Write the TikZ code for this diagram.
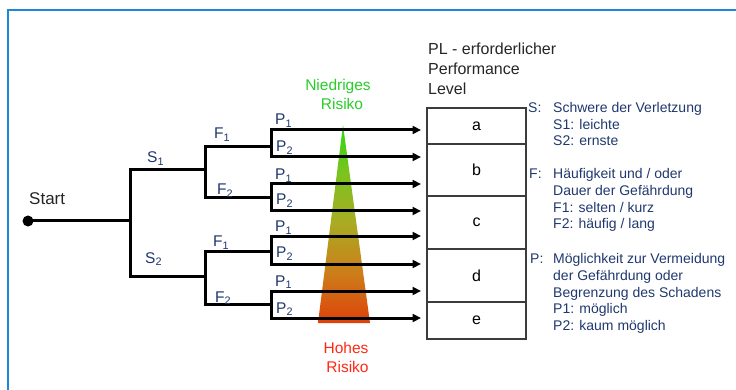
\documentclass[tikz,border=0pt]{standalone}
\usepackage{fontspec}
\setmainfont{Liberation Sans}
\usetikzlibrary{arrows.meta}
\definecolor{navy}{RGB}{31,56,110}
\definecolor{framec}{RGB}{30,136,216}
\definecolor{lowc}{RGB}{40,205,40}
\definecolor{highc}{RGB}{255,40,20}
\definecolor{triTop}{RGB}{45,215,20}
\definecolor{triUp}{RGB}{125,195,30}
\definecolor{triMid}{RGB}{170,170,35}
\definecolor{triLow}{RGB}{205,125,25}
\definecolor{triBot}{RGB}{222,65,10}
\definecolor{boxc}{RGB}{60,60,60}
\pgfdeclareverticalshading{riskshade}{100bp}{color(0bp)=(triBot); color(25bp)=(triBot);
  color(37.5bp)=(triLow); color(50bp)=(triMid); color(62.5bp)=(triUp);
  color(75bp)=(triTop); color(100bp)=(triTop)}
\tikzset{
  tree/.style={line width=3pt, line join=miter, black},
  arr/.style={tree, -{Triangle[length=8.5pt,width=8pt]}},
  lbl/.style={font=\fontsize{15.5}{18}\selectfont, text=navy, inner sep=0pt, anchor=base west},
  leg/.style={font=\fontsize{14}{17}\selectfont, text=navy, inner sep=0pt, anchor=base west},
  pltext/.style={font=\fontsize{16}{20}\selectfont, text=black!85, inner sep=0pt, anchor=base west},
  risk/.style={font=\fontsize{15.5}{19}\selectfont, inner sep=0pt, anchor=base},
  plbox/.style={draw=boxc, line width=1.3pt, minimum width=99pt, inner sep=0pt,
                font=\fontsize{16}{20}\selectfont},
  dot/.style={circle, fill=black, inner sep=0pt, minimum size=11pt}
}
\begin{document}
\begin{tikzpicture}[x=1pt,y=-1pt]
\useasboundingbox (0,0) rectangle (736,390);
% frame
\draw[framec, line width=2pt] (8,392) -- (8,10) -- (740,10);

% risk triangle
\coordinate (apex) at (343,125);
\coordinate (baseL) at (318,323);
\coordinate (baseR) at (370,323);
\shade[shading=riskshade] (apex) -- (baseR) -- (baseL) -- cycle;

% tree coordinates
\node[dot] (start) at (28,221) {};
\coordinate (sj) at (130,221);
\coordinate (s1) at (130,170);
\coordinate (s2) at (130,276);
\coordinate (fj1) at (205,170);
\coordinate (fj2) at (205,276);
\foreach \n/\y in {1/147, 2/198, 3/251, 4/304} {
  \coordinate (fa\n) at (205,\y);
  \coordinate (pj\n) at (271,\y);
}
\foreach \n/\y in {1/130, 2/157, 3/184, 4/211, 5/236, 6/264, 7/291, 8/318} {
  \coordinate (pend\n) at (421,\y);
}

% boxes
\node[plbox, minimum height=36pt] (a) at (476.5,126) {a};
\node[plbox, minimum height=52pt] (b) at (476.5,170) {b};
\node[plbox, minimum height=53pt] (c) at (476.5,222.5) {c};
\node[plbox, minimum height=53pt] (d) at (476.5,275.5) {d};
\node[plbox, minimum height=37pt] (e) at (476.5,320.5) {e};

% tree lines
\draw[tree] (start.center) -- (sj);
\draw[tree] (fj1) -- (s1) -- (s2) -- (fj2);
\draw[tree] (pj1) -- (fa1) -- (fa2) -- (pj2);
\draw[tree] (pj3) -- (fa3) -- (fa4) -- (pj4);
\draw[arr] (pj1) |- (pend1);
\draw[arr] (pj1) |- (pend2);
\draw[arr] (pj2) |- (pend3);
\draw[arr] (pj2) |- (pend4);
\draw[arr] (pj3) |- (pend5);
\draw[arr] (pj3) |- (pend6);
\draw[arr] (pj4) |- (pend7);
\draw[arr] (pj4) |- (pend8);

% tree labels
\node[pltext, font=\fontsize{17}{20}\selectfont] (tstart) at (29,205) {Start};
\node[lbl] (ls1) at (147,163) {S\textsubscript{1}};
\node[lbl] (ls2) at (145,263) {S\textsubscript{2}};
\node[lbl] (lf1) at (214,139) {F\textsubscript{1}};
\node[lbl] (lf2) at (217,195) {F\textsubscript{2}};
\node[lbl] (lf3) at (213,247) {F\textsubscript{1}};
\node[lbl] (lf4) at (215,302) {F\textsubscript{2}};
\node[lbl] (lp1) at (275,125) {P\textsubscript{1}};
\node[lbl] (lp2) at (276,152) {P\textsubscript{2}};
\node[lbl] (lp3) at (275,180) {P\textsubscript{1}};
\node[lbl] (lp4) at (276,205) {P\textsubscript{2}};
\node[lbl] (lp5) at (275,232) {P\textsubscript{1}};
\node[lbl] (lp6) at (276,258) {P\textsubscript{2}};
\node[lbl] (lp7) at (275,286) {P\textsubscript{1}};
\node[lbl] (lp8) at (276,313) {P\textsubscript{2}};

% risk labels
\node[risk, text=lowc] (n1) at (338,91) {Niedriges};
\node[risk, text=lowc] (n2) at (342,110) {Risiko};
\node[risk, text=highc] (h1) at (346,353) {Hohes};
\node[risk, text=highc] (h2) at (347.5,372) {Risiko};

% PL heading
\node[pltext] (pl1) at (428,55) {PL - erforderlicher};
\node[pltext] (pl2) at (428,75) {Performance};
\node[pltext] (pl3) at (428,95) {Level};

% legend
\node[leg] (kS) at (528,113) {S:};
\node[leg] (kS1) at (553,113) {Schwere der Verletzung};
\node[leg] (kS2) at (553,129.5) {S1: leichte};
\node[leg] (kS3) at (553,146) {S2: ernste};
\node[leg] (kF) at (529,179) {F:};
\node[leg] (kF1) at (553,179) {Häufigkeit und / oder};
\node[leg] (kF2) at (553,196) {Dauer der Gefährdung};
\node[leg] (kF3) at (553,212.5) {F1: selten / kurz};
\node[leg] (kF4) at (553,229) {F2: häufig / lang};
\node[leg] (kP) at (530,263) {P:};
\node[leg] (kP1) at (553,263) {Möglichkeit zur Vermeidung};
\node[leg] (kP2) at (553,280) {der Gefährdung oder};
\node[leg] (kP3) at (553,297) {Begrenzung des Schadens};
\node[leg] (kP4) at (553,313.5) {P1: möglich};
\node[leg] (kP5) at (553,330) {P2: kaum möglich};
\end{tikzpicture}
\end{document}
